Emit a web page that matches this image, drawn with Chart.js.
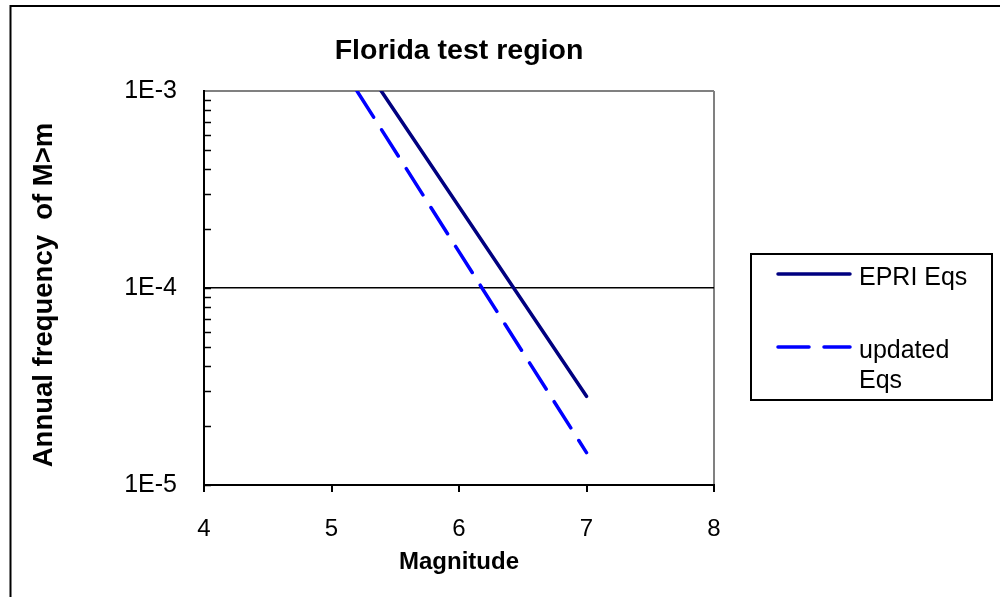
<!DOCTYPE html>
<html>
<head>
<meta charset="utf-8">
<script src="https://cdn.jsdelivr.net/npm/chart.js@4"></script>
<style>
  html, body { margin: 0; padding: 0; background: #fff; }
  canvas { display: block; }
</style>
</head>
<body>
<canvas id="c" width="1000" height="597"></canvas>
<script>
// ---- data ----
const chartTitle = 'Florida test region';
const yAxisTitle = 'Annual frequency  of M>m';
const xAxisTitle = 'Magnitude';
const seriesNames = ['EPRI Eqs', 'updated\nEqs'];
const epriMagnitude = [5.39, 7.0];
const epriFrequency = [1.0e-3, 2.82e-5];
const updatedMagnitude = [5.2, 7.0];
const updatedFrequency = [1.0e-3, 1.46e-5];
const yTickValues = [1e-5, 1e-4, 1e-3];
const yTickLabels = ['1E-5', '1E-4', '1E-3'];
const xTickValues = [4, 5, 6, 7, 8];

const FONT = "'Liberation Sans', Arial, Helvetica, sans-serif";

function toPoints(xs, ys) { return xs.map((x, i) => ({ x: x, y: ys[i] })); }
function near(a, b) { return Math.abs(Math.log10(a) - Math.log10(b)) < 1e-6; }

const framePlugin = {
  id: 'frame',
  beforeDraw(chart) {
    const ctx = chart.ctx;
    ctx.save();
    ctx.fillStyle = '#fff';
    ctx.fillRect(0, 0, chart.width, chart.height);
    ctx.strokeStyle = '#000';
    ctx.lineWidth = 2;
    ctx.beginPath();
    ctx.moveTo(10.5, chart.height);
    ctx.lineTo(10.5, 6);
    ctx.lineTo(chart.width, 6);
    ctx.stroke();
    ctx.restore();
  }
};

const titlesPlugin = {
  id: 'titles',
  afterDraw(chart) {
    const ctx = chart.ctx;
    const ca = chart.chartArea;
    ctx.save();
    ctx.fillStyle = '#000';
    ctx.textAlign = 'center';
    ctx.textBaseline = 'middle';
    ctx.font = 'bold 28.5px ' + FONT;
    ctx.fillText(chartTitle, (ca.left + ca.right) / 2, 51);
    ctx.translate(44, (ca.top + ca.bottom) / 2 + 7);
    ctx.rotate(-Math.PI / 2);
    ctx.font = 'bold 27.5px ' + FONT;
    ctx.fillText(yAxisTitle, 0, 0);
    ctx.restore();
  }
};

const minorTickPlugin = {
  id: 'minorTicks',
  afterDraw(chart) {
    const ys = chart.scales.y;
    const ctx = chart.ctx;
    const left = chart.chartArea.left;
    ctx.save();
    ctx.strokeStyle = '#000';
    ctx.lineWidth = 1.5;
    for (let e = -5; e < -3; e++) {
      for (let m = 1; m <= 9; m++) {
        const v = m * Math.pow(10, e);
        const py = Math.round(ys.getPixelForValue(v)) + 0.5;
        ctx.beginPath();
        ctx.moveTo(left, py);
        ctx.lineTo(left + 7, py);
        ctx.stroke();
      }
    }
    ctx.restore();
  }
};

const legendPlugin = {
  id: 'boxLegend',
  afterDraw(chart) {
    const ctx = chart.ctx;
    const ca = chart.chartArea;
    const bx = ca.right + 37, by = 254, bw = 241, bh = 146;
    ctx.save();
    ctx.strokeStyle = '#000';
    ctx.lineWidth = 2;
    ctx.strokeRect(bx, by, bw, bh);
    ctx.font = '25px ' + FONT;
    ctx.fillStyle = '#000';
    ctx.textBaseline = 'middle';
    ctx.textAlign = 'left';
    const rows = [20, 93];
    chart.data.datasets.forEach((ds, i) => {
      const ly = by + rows[i];
      ctx.strokeStyle = ds.borderColor;
      ctx.lineWidth = ds.borderWidth;
      ctx.lineCap = 'round';
      ctx.setLineDash(ds.borderDash || []);
      ctx.beginPath();
      ctx.moveTo(bx + 27, ly);
      ctx.lineTo(bx + 99, ly);
      ctx.stroke();
      ctx.setLineDash([]);
      const lines = seriesNames[i].split('\n');
      lines.forEach((t, k) => ctx.fillText(t, bx + 108, ly + 4 + k * 30));
    });
    ctx.restore();
  }
};

new Chart(document.getElementById('c'), {
  type: 'line',
  data: {
    datasets: [
      {
        label: seriesNames[0],
        data: toPoints(epriMagnitude, epriFrequency),
        borderColor: '#000080',
        borderWidth: 3.5,
        pointRadius: 0,
        fill: false,
        tension: 0,
        borderCapStyle: 'round'
      },
      {
        label: seriesNames[1],
        data: toPoints(updatedMagnitude, updatedFrequency),
        borderColor: '#0000FF',
        borderWidth: 3.5,
        borderDash: [31, 15],
        pointRadius: 0,
        fill: false,
        tension: 0,
        borderCapStyle: 'round'
      }
    ]
  },
  options: {
    responsive: false,
    animation: false,
    devicePixelRatio: 1,
    layout: { padding: { left: 0, right: 286, top: 91, bottom: 0 } },
    plugins: {
      legend: { display: false },
      tooltip: { enabled: false },
      title: { display: false }
    },
    scales: {
      x: {
        type: 'linear',
        min: 4,
        max: 8,
        afterBuildTicks: (s) => { s.ticks = xTickValues.map(v => ({ value: v })); },
        afterFit: (s) => { s.height = 112; },
        ticks: {
          color: '#000',
          font: { family: FONT, size: 24 },
          padding: 23,
          maxRotation: 0,
          callback: (v) => String(v)
        },
        grid: {
          color: (c) => (c.tick && c.tick.value === 8 ? '#808080' : 'rgba(0,0,0,0)'),
          lineWidth: 2,
          tickColor: '#000',
          tickLength: 7,
          drawTicks: true
        },
        border: { display: true, color: '#000', width: 2 },
        title: {
          display: true,
          text: xAxisTitle,
          color: '#000',
          font: { family: FONT, size: 24, weight: 'bold' },
          padding: { top: 0, bottom: 20 }
        }
      },
      y: {
        type: 'logarithmic',
        min: 1e-5,
        max: 1e-3,
        afterBuildTicks: (s) => { s.ticks = yTickValues.map(v => ({ value: v })); },
        afterFit: (s) => { s.width = 204; },
        ticks: {
          color: '#000',
          font: { family: FONT, size: 25 },
          padding: 27,
          callback: (v) => {
            const i = yTickValues.findIndex(t => near(t, v));
            return i >= 0 ? yTickLabels[i] : '';
          }
        },
        grid: {
          color: (c) => {
            if (!c.tick) return 'rgba(0,0,0,0)';
            if (near(c.tick.value, 1e-3)) return '#808080';
            if (near(c.tick.value, 1e-4)) return '#000';
            return 'rgba(0,0,0,0)';
          },
          lineWidth: (c) => (c.tick && near(c.tick.value, 1e-3) ? 2 : 1.5),
          drawTicks: false
        },
        border: { display: true, color: '#000', width: 2 },
        title: { display: false }
      }
    }
  },
  plugins: [framePlugin, minorTickPlugin, titlesPlugin, legendPlugin]
});
</script>
</body>
</html>
